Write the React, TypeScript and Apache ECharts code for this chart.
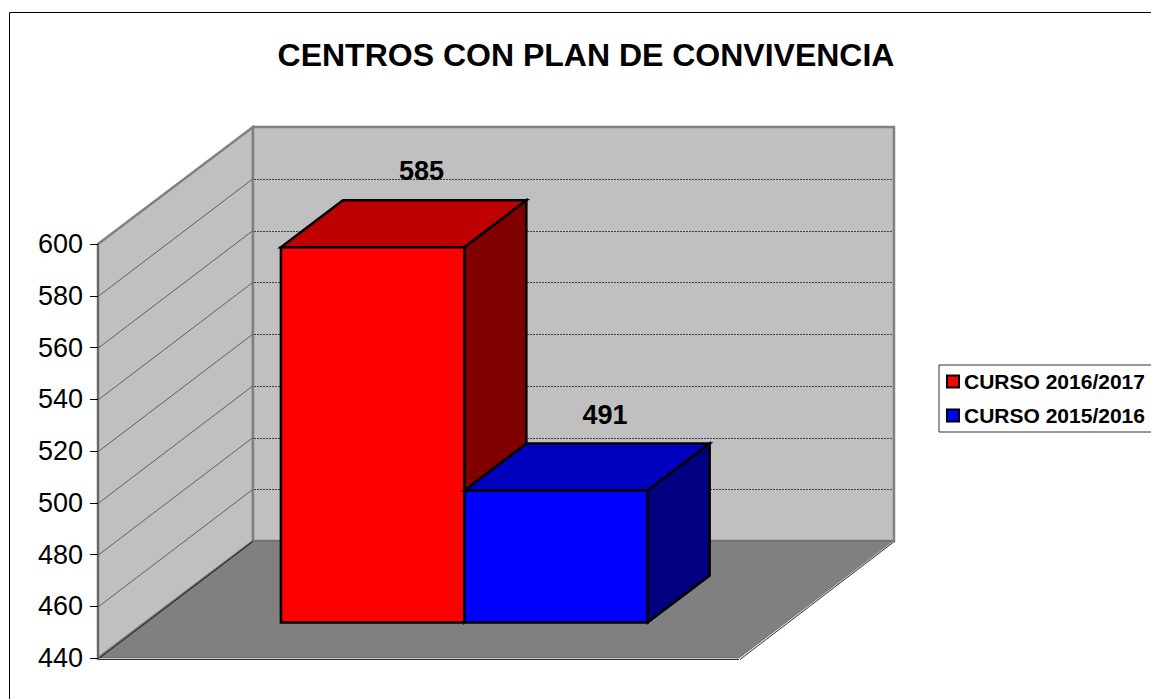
import React, { useEffect, useRef } from "react";
import * as echarts from "echarts";

const TITLE = "CENTROS CON PLAN DE CONVIVENCIA";
const CATEGORIES = ["Centros"];
const SERIES_NAMES = ["CURSO 2016/2017", "CURSO 2015/2016"];
const VALUES_2016 = [585];
const VALUES_2015 = [491];
const Y_TICKS = [440, 460, 480, 500, 520, 540, 560, 580, 600];

const FONT = "'Liberation Sans', Arial, sans-serif";
const WALL_DX = 155;
const WALL_DY = -117;
const BAR_DX = 62;
const BAR_DY = -47;
const FRONT_DX = 47.7;
const FRONT_DY = -35.5;
const BAR_W = 0.2860;
const BAR_START = 0.211;

function poly(points: number[][], fill: string, stroke: string, lineWidth: number) {
  return {
    type: "polygon",
    shape: { points },
    style: { fill, stroke, lineWidth, lineJoin: "miter" },
  };
}
function line(a: number[], b: number[], stroke: string, lineWidth: number, lineDash?: number[]) {
  return {
    type: "line",
    shape: { x1: a[0], y1: a[1], x2: b[0], y2: b[1] },
    style: { stroke, lineWidth, lineDash, fill: "none" },
  };
}

function renderWalls(params: any, api: any) {
  const v = api.value(1);
  const center = api.coord([0, v]);
  const band = api.size([1, 0])[0];
  const left = center[0] - band / 2;
  const right = center[0] + band / 2;
  const yTop = api.coord([0, Y_TICKS[Y_TICKS.length - 1]])[1];
  const yBot = api.coord([0, Y_TICKS[0]])[1];
  const children: any[] = [];
  const bx = left + WALL_DX;
  const bxr = right + WALL_DX;
  if (params.dataIndex === 0) {
    children.push(
      poly([[left, yTop], [bx, yTop + WALL_DY], [bx, yBot + WALL_DY], [left, yBot]], "#C0C0C0", "#808080", 2.5),
      poly([[bx, yTop + WALL_DY], [bxr, yTop + WALL_DY], [bxr, yBot + WALL_DY], [bx, yBot + WALL_DY]], "#C0C0C0", "#808080", 2.5),
      poly([[left, yBot], [bx, yBot + WALL_DY], [bxr, yBot + WALL_DY], [right, yBot]], "#808080", "#666666", 1),
      line([left + 1, yBot + 0.5], [bx, yBot + WALL_DY + 0.5], "#000000", 0.8),
      line([left, yBot + 1], [right, yBot + 1], "#D8D8D8", 1),
      line([left, yBot + 1.5], [right, yBot + 1.5], "#333333", 1),
      line([right, yBot + 1], [bxr, yBot + WALL_DY], "#E0E0E0", 1),
      line([right + 1, yBot + 1.5], [bxr + 1, yBot + WALL_DY], "#333333", 1)
    );
  } else if (v !== Y_TICKS[Y_TICKS.length - 1]) {
    const y = center[1];
    children.push(
      line([left + 1, y], [bx, y + WALL_DY], "#606060", 1),
      line([bx + 1, Math.round(y + WALL_DY) + 0.5], [bxr - 1, Math.round(y + WALL_DY) + 0.5], "#404040", 1, [2, 1])
    );
  }
  return { type: "group", children };
}

function makeBar(position: number, front: string, top: string, side: string) {
  return (_params: any, api: any) => {
    const v = api.value(1);
    const band = api.size([1, 0])[0];
    const c = api.coord([0, v]);
    const base = api.coord([0, Y_TICKS[0]]);
    const left = c[0] - band / 2;
    const x0 = left + band * (BAR_START + position * BAR_W) + FRONT_DX;
    const x1 = x0 + band * BAR_W;
    const yT = c[1] + FRONT_DY;
    const yB = base[1] + FRONT_DY;
    const black = "#000000";
    return {
      type: "group",
      children: [
        poly([[x1, yT], [x1 + BAR_DX, yT + BAR_DY], [x1 + BAR_DX, yB + BAR_DY], [x1, yB]], side, black, 2.6),
        poly([[x0, yT], [x0 + BAR_DX, yT + BAR_DY], [x1 + BAR_DX, yT + BAR_DY], [x1, yT]], top, black, 2.6),
        poly([[x0, yT], [x1, yT], [x1, yB], [x0, yB]], front, black, 2.6),
        {
          type: "text",
          style: {
            text: String(v),
            x: (x0 + x1) / 2 + 49,
            y: yT - 76,
            fill: "#000000",
            font: `bold 27px ${FONT}`,
            textAlign: "center",
            textVerticalAlign: "middle",
          },
        },
      ],
    };
  };
}

export default function App() {
  const ref = useRef<HTMLDivElement>(null);
  useEffect(() => {
    document.body.style.margin = "0";
    const chart = echarts.init(ref.current!, null, { renderer: "svg" });
    chart.setOption({
      animation: false,
      backgroundColor: "#FFFFFF",
      textStyle: { fontFamily: FONT },
      title: {
        text: TITLE,
        left: 586,
        top: 39,
        padding: 0,
        textAlign: "center",
        textStyle: { fontFamily: FONT, fontSize: 32, fontWeight: "bold", color: "#000000" },
      },
      graphic: [
        {
          type: "rect",
          z: 0,
          shape: { x: 9.5, y: 12.5, width: 1300, height: 900 },
          style: { fill: "none", stroke: "#000000", lineWidth: 1 },
        },
      ],
      legend: {
        data: SERIES_NAMES,
        orient: "vertical",
        left: 939,
        top: 365,
        padding: [6, 60, 6, 7],
        itemGap: 13,
        itemWidth: 12,
        itemHeight: 12,
        icon: "rect",
        borderColor: "#333333",
        borderWidth: 1,
        backgroundColor: "#FFFFFF",
        selectedMode: false,
        textStyle: { fontFamily: FONT, fontSize: 21, fontWeight: "bold", color: "#000000" },
      },
      grid: { left: 98, top: 244, width: 641, height: 414 },
      xAxis: { type: "category", data: CATEGORIES, show: false },
      yAxis: {
        type: "value",
        min: Y_TICKS[0],
        max: Y_TICKS[Y_TICKS.length - 1],
        interval: 20,
        splitLine: { show: false },
        axisLine: { show: true, lineStyle: { color: "#666666", width: 2 } },
        axisTick: { show: true, length: 8, lineStyle: { color: "#000000", width: 1 } },
        axisLabel: { fontFamily: FONT, fontSize: 27, color: "#000000", margin: 15 },
        z: 5,
      },
      series: [
        {
          type: "custom",
          name: "walls",
          silent: true,
          clip: false,
          z: 1,
          renderItem: renderWalls,
          data: Y_TICKS.map((t) => [0, t]),
          encode: { x: 0, y: 1 },
        },
        {
          type: "custom",
          name: SERIES_NAMES[0],
          clip: false,
          z: 2,
          itemStyle: { color: "#FF0000", borderColor: "#000000", borderWidth: 2 },
          renderItem: makeBar(0, "#FF0000", "#BF0000", "#800000"),
          data: VALUES_2016.map((v, i) => [i, v]),
          encode: { x: 0, y: 1 },
        },
        {
          type: "custom",
          name: SERIES_NAMES[1],
          clip: false,
          z: 3,
          itemStyle: { color: "#0000FF", borderColor: "#000000", borderWidth: 2 },
          renderItem: makeBar(1, "#0000FF", "#0000BF", "#000080"),
          data: VALUES_2015.map((v, i) => [i, v]),
          encode: { x: 0, y: 1 },
        },
      ],
    });
    return () => chart.dispose();
  }, []);
  return <div ref={ref} style={{ width: 1151, height: 699 }} />;
}
